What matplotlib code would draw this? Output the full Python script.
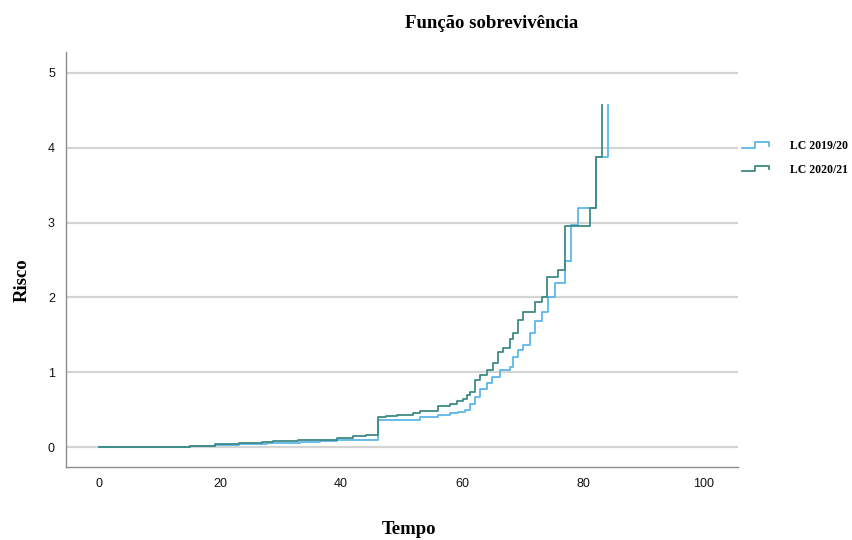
import matplotlib
matplotlib.use('Agg')
import matplotlib.pyplot as plt
from matplotlib.lines import Line2D
from matplotlib.legend_handler import HandlerBase

# --- data (cumulative hazard steps) ---
tempo_1920 = [0, 15, 19.2, 23.2, 27.7, 33.2, 36.5, 39.3, 42, 46.1, 53, 56, 58, 59.4,
              60.5, 61.3, 62.1, 63, 64.1, 64.9, 66.3, 67.9, 68.5, 69.3, 70.1, 71.2,
              72.1, 73.2, 74.3, 75.4, 77, 78.1, 79.1, 82.1, 84.2]
risco_1920 = [0, 0.015, 0.03, 0.04, 0.053, 0.067, 0.085, 0.094, 0.10, 0.36, 0.405,
              0.43, 0.45, 0.47, 0.50, 0.57, 0.67, 0.78, 0.85, 0.94, 1.03, 1.07, 1.21,
              1.30, 1.36, 1.52, 1.68, 1.81, 2.01, 2.19, 2.48, 2.97, 3.19, 3.88, 4.57]

tempo_2021 = [0, 15, 19.2, 23.2, 26, 27, 28.8, 32.9, 39.3, 42, 44.2, 46.1, 47.5, 49.2,
              51.9, 53, 56, 58, 59.2, 60.1, 60.8, 61.3, 62.1, 63, 64.1, 65.2, 66, 66.8,
              67.9, 68.5, 69.3, 70.1, 72.1, 73.2, 74, 75.9, 77, 81.2, 82.1, 83.1]
risco_2021 = [0, 0.02, 0.035, 0.05, 0.06, 0.07, 0.08, 0.10, 0.12, 0.15, 0.16, 0.40,
              0.41, 0.43, 0.45, 0.48, 0.55, 0.57, 0.61, 0.64, 0.70, 0.74, 0.90, 0.96,
              1.03, 1.13, 1.27, 1.32, 1.45, 1.52, 1.70, 1.80, 1.94, 2.01, 2.27, 2.37,
              2.95, 3.19, 3.88, 4.57]

labels = ['LC 2019/20', 'LC 2020/21']
colors = ['#5cb6ea', '#3e8a84']
x_ticks = [0, 20, 40, 60, 80, 100]
y_ticks = [0, 1, 2, 3, 4, 5]


class StepHandler(HandlerBase):
    # legend glyph drawn as a small step, like SPSS does
    def create_artists(self, legend, orig_handle, xdescent, ydescent,
                       width, height, fontsize, trans):
        xs = [-xdescent, -xdescent + 0.5 * width, -xdescent + 0.5 * width,
              -xdescent + width, -xdescent + width]
        ys = [0.15 * height, 0.15 * height, 0.85 * height, 0.85 * height, 0.4 * height]
        ln = Line2D(xs, ys, color=orig_handle.get_color(), lw=1.3, transform=trans)
        return [ln]


fig = plt.figure(figsize=(8.53, 5.40), dpi=100)
ax = fig.add_axes([0.0774, 0.135, 0.7876, 0.769])

handles = []
for t, r, c, lab in [(tempo_1920, risco_1920, colors[0], labels[0]),
                     (tempo_2021, risco_2021, colors[1], labels[1])]:
    h, = ax.step(t, r, where='post', color=c, lw=1.3, label=lab)
    handles.append(h)

ax.set_xlim(-5.45, 105.6)
ax.set_ylim(-0.267, 5.28)
ax.set_xticks(x_ticks)
ax.set_yticks(y_ticks)
ax.yaxis.grid(True, color='#d4d4d4', lw=1.6)
ax.set_axisbelow(True)
for s in ['top', 'right']:
    ax.spines[s].set_visible(False)
for s in ['left', 'bottom']:
    ax.spines[s].set_color('#8c8c8c')
    ax.spines[s].set_linewidth(1.0)
ax.tick_params(length=0, labelsize=9, colors='#111111', pad=8,
               labelfontfamily='Liberation Sans')

fig.text(492 / 853, 1 - 24 / 540, 'Função sobrevivência', ha='center', va='center',
         family='Liberation Serif', weight='bold', fontsize=13.5)
fig.text(409 / 853, 1 - 530 / 540, 'Tempo', ha='center', va='center',
         family='Liberation Serif', weight='bold', fontsize=13.5)
fig.text(22 / 853, 1 - 280 / 540, 'Risco', ha='center', va='center', rotation=90,
         family='Liberation Serif', weight='bold', fontsize=13.5)

fig.legend(handles, labels, loc='center left', bbox_to_anchor=(731 / 853, 1 - 158 / 540),
           frameon=False, handler_map={Line2D: StepHandler()}, handlelength=2.3,
           handletextpad=1.8, labelspacing=0.95,
           prop={'family': 'Liberation Serif', 'weight': 'bold', 'size': 8.5})

fig.savefig('out.png', dpi=100)
